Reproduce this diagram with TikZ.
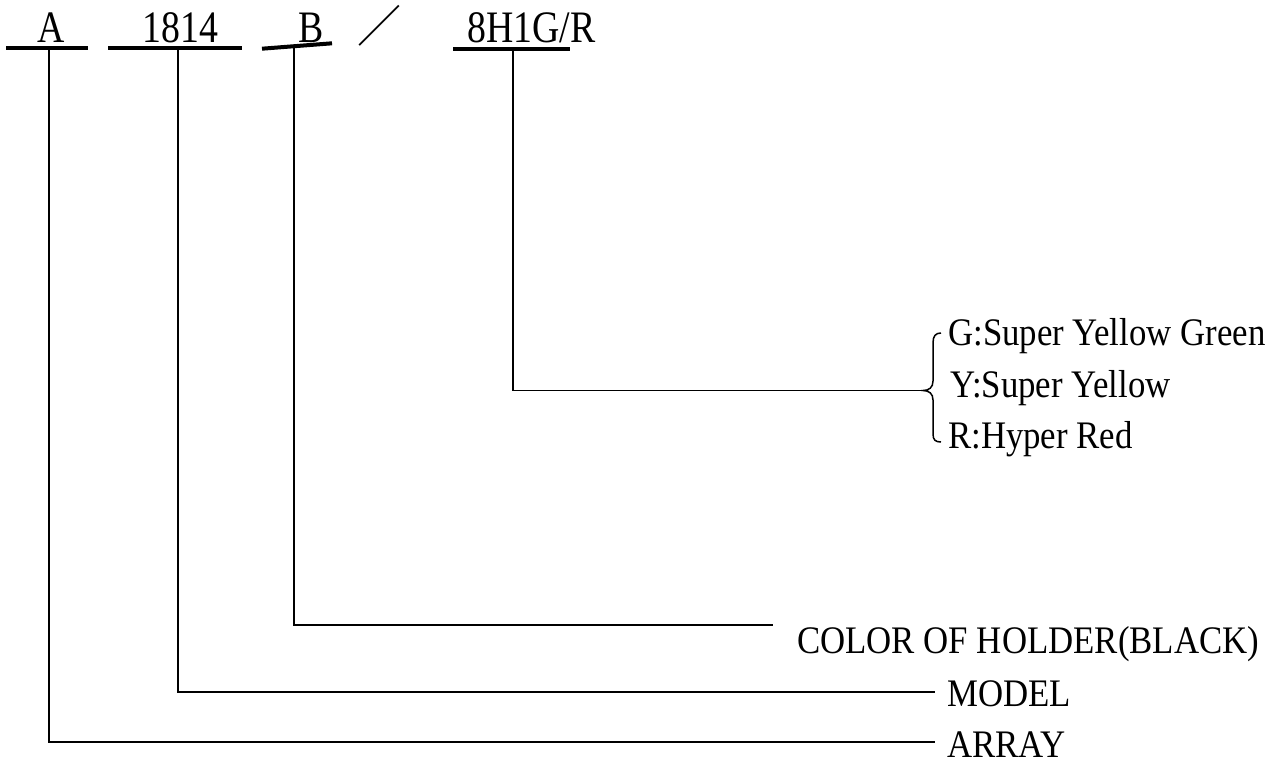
\documentclass[tikz,border=0pt]{standalone}
\usepackage{fontspec}
\setmainfont{Liberation Serif}
\newfontfamily\codefont{Liberation Serif}[FakeStretch=0.84]
\newfontfamily\lblfont{Liberation Serif}[FakeStretch=0.892]
\newfontfamily\cjk{Noto Sans CJK SC}
\begin{document}
\begin{tikzpicture}[x=1pt,y=-1pt,
  conn/.style={line width=1.8pt},
  uline/.style={line width=4pt},
  brace/.style={line width=1.5pt},
  code/.style={anchor=base, inner sep=0pt, font=\codefont\fontsize{45}{54}\selectfont},
  lbl/.style={anchor=base west, inner sep=0pt, font=\lblfont\fontsize{39}{46}\selectfont}]
\useasboundingbox (0,0) rectangle (1281,763);
% code characters
\node[code] (tA) at (51.5,42) {A};
\node[code] (t1814) at (180.5,42) {1814};
\node[code] (tB) at (311.5,42) {B};
\node[inner sep=0pt, font=\cjk\fontsize{44}{50}\selectfont] (slash) at (379,25.5) {／};
\node[code] (t8H) at (531.5,42) {8H1G/R};
% underlines
\coordinate (uA1) at (6,48);   \coordinate (uA2) at (88,48);
\coordinate (u11) at (108,48); \coordinate (u12) at (242,48);
\coordinate (uB1) at (262,48.7); \coordinate (uB2) at (332,43.3);
\coordinate (u81) at (453,49); \coordinate (u82) at (570,49);
\draw[uline] (uA1) -- (uA2);
\draw[uline] (u11) -- (u12);
\draw[uline] (uB1) -- (uB2);
\draw[uline] (u81) -- (u82);
% labels
\node[lbl] (array) at (947,757) {ARRAY};
\node[lbl] (model) at (947,706) {MODEL};
\node[lbl] (color) at (797,653) {COLOR OF HOLDER(BLACK)};
\node[lbl] (lg) at (948,345) {G:Super Yellow Green};
\node[lbl] (ly) at (950,397) {Y:Super Yellow};
\node[lbl] (lr) at (948,448) {R:Hyper Red};
% connectors
\coordinate (topA) at (49,48);  \coordinate (endA) at (935,742);
\coordinate (top1) at (178,48); \coordinate (end1) at (935,692);
\coordinate (topB) at (294,46.5); \coordinate (endB) at (773,625);
\coordinate (top8) at (513,49); \coordinate (cusp) at (923,390.5);
\draw[conn] (topA) |- (endA);
\draw[conn] (top1) |- (end1);
\draw[conn] (topB) |- (endB);
\draw[conn] (top8) |- (cusp);
% brace
\draw[brace] (941,333) .. controls (935.5,333) and (933,336) .. (933,343)
  -- (933,381) .. controls (933,387.5) and (929,390.5) .. (cusp)
  .. controls (929,390.5) and (933,393.5) .. (933,400)
  -- (933,434) .. controls (933,440) and (935.5,442) .. (941,442);
\end{tikzpicture}
\end{document}
